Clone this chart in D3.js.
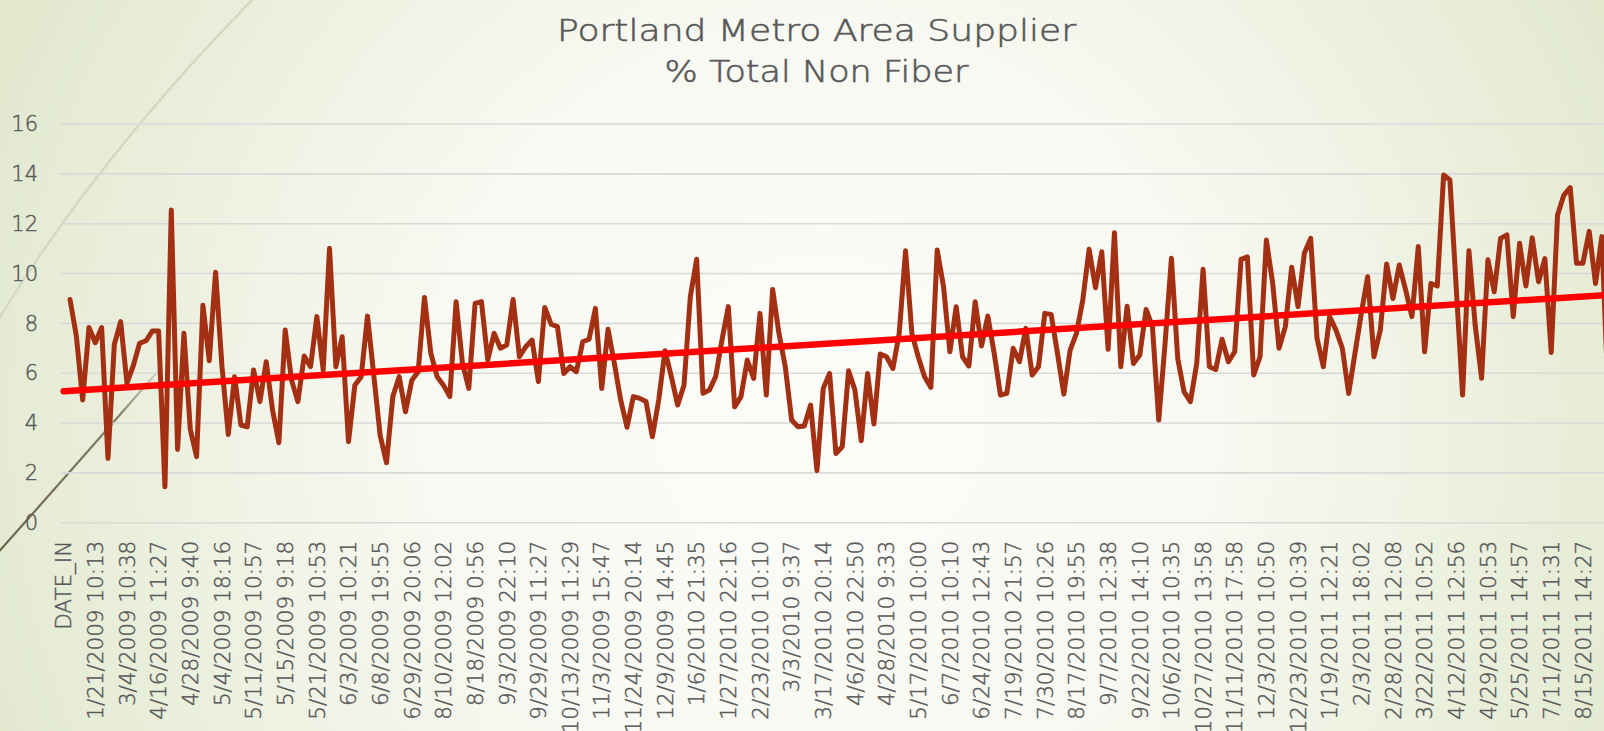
<!DOCTYPE html>
<html><head><meta charset="utf-8">
<script src="https://cdn.jsdelivr.net/npm/d3@7/dist/d3.min.js"></script>
<style>html,body{margin:0;padding:0;overflow:hidden;background:#f4f6ec}svg{display:block}</style>
</head><body>
<svg id="chart" width="1604" height="731"></svg>
<script>
// ---------------- data ----------------
const titleLines = ["Portland Metro Area Supplier", "% Total Non Fiber"];
// every 5th category carries a label
const tickLabels = [
  "DATE_IN","1/21/2009 10:13","3/4/2009 10:38","4/16/2009 11:27","4/28/2009 9:40","5/4/2009 18:16",
  "5/11/2009 10:57","5/15/2009 9:18","5/21/2009 10:53","6/3/2009 10:21","6/8/2009 19:55","6/29/2009 20:06",
  "8/10/2009 12:02","8/18/2009 0:56","9/3/2009 22:10","9/29/2009 11:27","10/13/2009 11:29","11/3/2009 15:47",
  "11/24/2009 20:14","12/9/2009 14:45","1/6/2010 21:35","1/27/2010 22:16","2/23/2010 10:10","3/3/2010 9:37",
  "3/17/2010 20:14","4/6/2010 22:50","4/28/2010 9:33","5/17/2010 10:00","6/7/2010 10:10","6/24/2010 12:43",
  "7/19/2010 21:57","7/30/2010 10:26","8/17/2010 19:55","9/7/2010 12:38","9/22/2010 14:10","10/6/2010 10:35",
  "10/27/2010 13:58","11/11/2010 17:58","12/3/2010 10:50","12/23/2010 10:39","1/19/2011 12:21","2/3/2011 18:02",
  "2/28/2011 12:08","3/22/2011 10:52","4/12/2011 12:56","4/29/2011 10:53","5/25/2011 14:57","7/11/2011 11:31",
  "8/15/2011 14:27"
];
const labelEvery = 5;
const yTicks = [0, 2, 4, 6, 8, 10, 12, 14, 16];
// % Total Non Fiber per category (first category = header, no value)
const values = [null,
  8.96,7.5,4.92,7.83,7.22,7.83,2.58,7.15,8.07,5.6,
  6.3,7.2,7.3,7.69,7.69,1.44,12.55,2.94,7.6,3.75,
  2.65,8.73,6.5,10.05,6.3,3.54,5.86,3.92,3.85,6.13,
  4.86,6.46,4.52,3.21,7.73,5.72,4.86,6.69,6.26,8.27,
  6.13,11.01,6.26,7.46,3.25,5.52,5.86,8.29,5.9,3.5,
  2.41,5.06,5.86,4.45,5.72,6.06,9.04,6.8,5.86,5.52,
  5.06,8.87,6.39,5.39,8.8,8.87,6.53,7.6,7.0,7.13,
  8.96,6.66,7.06,7.33,5.66,8.64,7.97,7.87,5.99,6.26,
  6.06,7.26,7.36,8.6,5.39,7.76,6.39,4.92,3.83,5.06,
  4.99,4.86,3.45,4.92,6.9,5.86,4.72,5.52,9.07,10.57,
  5.19,5.32,5.86,7.33,8.67,4.65,5.06,6.53,5.79,8.4,
  5.12,9.36,7.6,6.26,4.12,3.85,3.88,4.72,2.09,5.39,
  5.99,2.78,3.05,6.1,5.32,3.29,5.99,3.96,6.77,6.66,
  6.19,7.6,10.91,7.6,6.66,5.86,5.43,10.94,9.47,6.86,
  8.67,6.66,6.29,8.87,7.09,8.29,6.8,5.12,5.19,7.0,
  6.46,7.8,5.93,6.26,8.4,8.36,6.8,5.16,6.93,7.6,
  8.94,10.97,9.43,10.87,6.96,11.64,6.26,8.69,6.39,6.73,
  8.56,7.87,4.12,7.2,10.61,6.59,5.25,4.86,6.39,10.17,
  6.26,6.15,7.36,6.46,6.86,10.57,10.67,5.93,6.66,11.34,
  9.6,7.0,7.87,10.25,8.67,10.81,11.41,7.4,6.26,8.27,
  7.73,7.0,5.19,6.8,8.4,9.87,6.66,7.73,10.38,9.0,
  10.34,9.34,8.27,11.08,6.86,9.6,9.5,13.95,13.75,9.4,
  5.12,10.91,7.9,5.8,10.55,9.27,11.41,11.55,8.27,11.21,
  9.5,11.43,9.67,10.6,6.83,12.35,13.15,13.45,10.41,10.41,
  11.69,9.6,11.48,5.0
];

// ---------------- layout ----------------
const W = 1604, H = 731;
const plotLeft = 60.5, bandW = 6.33;
const plotRight = plotLeft + bandW * values.length;
const yTop = 124, yBottom = 522.7;
const categories = d3.range(values.length);

const svg = d3.select("#chart");
const defs = svg.append("defs");

// background
const bg = defs.append("radialGradient").attr("id","bg")
  .attr("gradientUnits","userSpaceOnUse").attr("cx",820).attr("cy",420).attr("r",880);
bg.append("stop").attr("offset",0).attr("stop-color","#fcfcf9");
bg.append("stop").attr("offset",0.45).attr("stop-color","#f8f9f2");
bg.append("stop").attr("offset",1).attr("stop-color","#e2e9cf");
svg.append("rect").attr("width",W).attr("height",H).attr("fill","url(#bg)");

// theme decoration curves
const fade = defs.append("linearGradient").attr("id","fade")
  .attr("gradientUnits","userSpaceOnUse").attr("x1",0).attr("y1",555).attr("x2",160).attr("y2",370);
fade.append("stop").attr("offset",0).attr("stop-color","#6c6449").attr("stop-opacity",1);
fade.append("stop").attr("offset",0.75).attr("stop-color","#7a7358").attr("stop-opacity",0.9);
fade.append("stop").attr("offset",1).attr("stop-color","#8c8770").attr("stop-opacity",0.2);
svg.append("path").attr("d","M -5 325 Q 95 160 254 -2")
  .attr("fill","none").attr("stroke","#d3d9c3").attr("stroke-width",2.5);
svg.append("path").attr("d","M -6 557 Q 70 472 160 369")
  .attr("fill","none").attr("stroke","url(#fade)").attr("stroke-width",2.2);

// scales
const x = d3.scaleBand().domain(categories).range([plotLeft, plotRight]).padding(0);
const xc = i => x(i) + x.bandwidth() / 2;
const y = d3.scaleLinear().domain([0, 16]).range([yBottom, yTop]);

const font = "'DejaVu Sans', Lato, sans-serif";
const textColor = "#595959";

// gridlines
svg.append("g").selectAll("line").data(yTicks).join("line")
  .attr("x1", plotLeft).attr("x2", plotRight)
  .attr("y1", d => y(d)).attr("y2", d => y(d))
  .attr("stroke", "#d9d9d9").attr("stroke-width", 1.6);

// y axis
const yAxis = svg.append("g").attr("transform", `translate(${plotLeft},0)`)
  .call(d3.axisLeft(y).tickValues(yTicks).tickSize(0).tickPadding(22.5));
yAxis.select(".domain").remove();
yAxis.selectAll("text").attr("fill", textColor).attr("stroke", textColor).attr("stroke-width", 0.45)
  .style("font-family", font).style("font-weight", 200).style("font-size", "21px");

// x axis
const labelled = categories.filter(i => i % labelEvery === 0 && i / labelEvery < tickLabels.length);
const xAxis = svg.append("g").attr("transform", `translate(0,${yBottom})`)
  .call(d3.axisBottom(x).tickValues(labelled).tickFormat(i => tickLabels[i / labelEvery]).tickSize(0));
xAxis.select(".domain").remove();
xAxis.selectAll("text")
  .attr("transform", "rotate(-90)")
  .attr("x", -18).attr("y", 0).attr("dy", "0.36em")
  .style("text-anchor", "end")
  .attr("fill", textColor).attr("stroke", textColor).attr("stroke-width", 0.45)
  .style("font-family", font).style("font-weight", 200).style("font-size", "21.5px");

// series line
const line = d3.line().defined(d => d.v != null).x(d => xc(d.i)).y(d => y(d.v));
const pts = values.map((v, i) => ({i, v}));
svg.append("path").datum(pts).attr("d", line)
  .attr("fill", "none").attr("stroke", "#a33012").attr("stroke-width", 5)
  .attr("stroke-linejoin", "round").attr("stroke-linecap", "round");

// linear trendline (least squares on the series)
const def = pts.filter(d => d.v != null);
const mx = d3.mean(def, d => d.i), my = d3.mean(def, d => d.v);
const slope = d3.sum(def, d => (d.i - mx) * (d.v - my)) / d3.sum(def, d => (d.i - mx) ** 2);
const icpt = my - slope * mx;
const trend = [0, values.length - 1].map(i => ({i, v: icpt + slope * i}));
svg.append("path").datum(trend).attr("d", d3.line().x(d => xc(d.i)).y(d => y(d.v)))
  .attr("fill", "none").attr("stroke", "#ff0000").attr("stroke-width", 6.5).attr("stroke-linecap", "round");

// title
const titleWidths = [519, 304];
svg.append("g").selectAll("text").data(titleLines).join("text")
  .attr("x", 816.5).attr("y", (d, k) => 41 + k * 41)
  .attr("text-anchor", "middle").attr("fill", textColor).attr("stroke", textColor).attr("stroke-width", 0.6)
  .attr("textLength", (d, k) => titleWidths[k]).attr("lengthAdjust", "spacingAndGlyphs")
  .style("font-family", font).style("font-weight", 200).style("font-size", "31px").text(d => d);
</script>
</body></html>
